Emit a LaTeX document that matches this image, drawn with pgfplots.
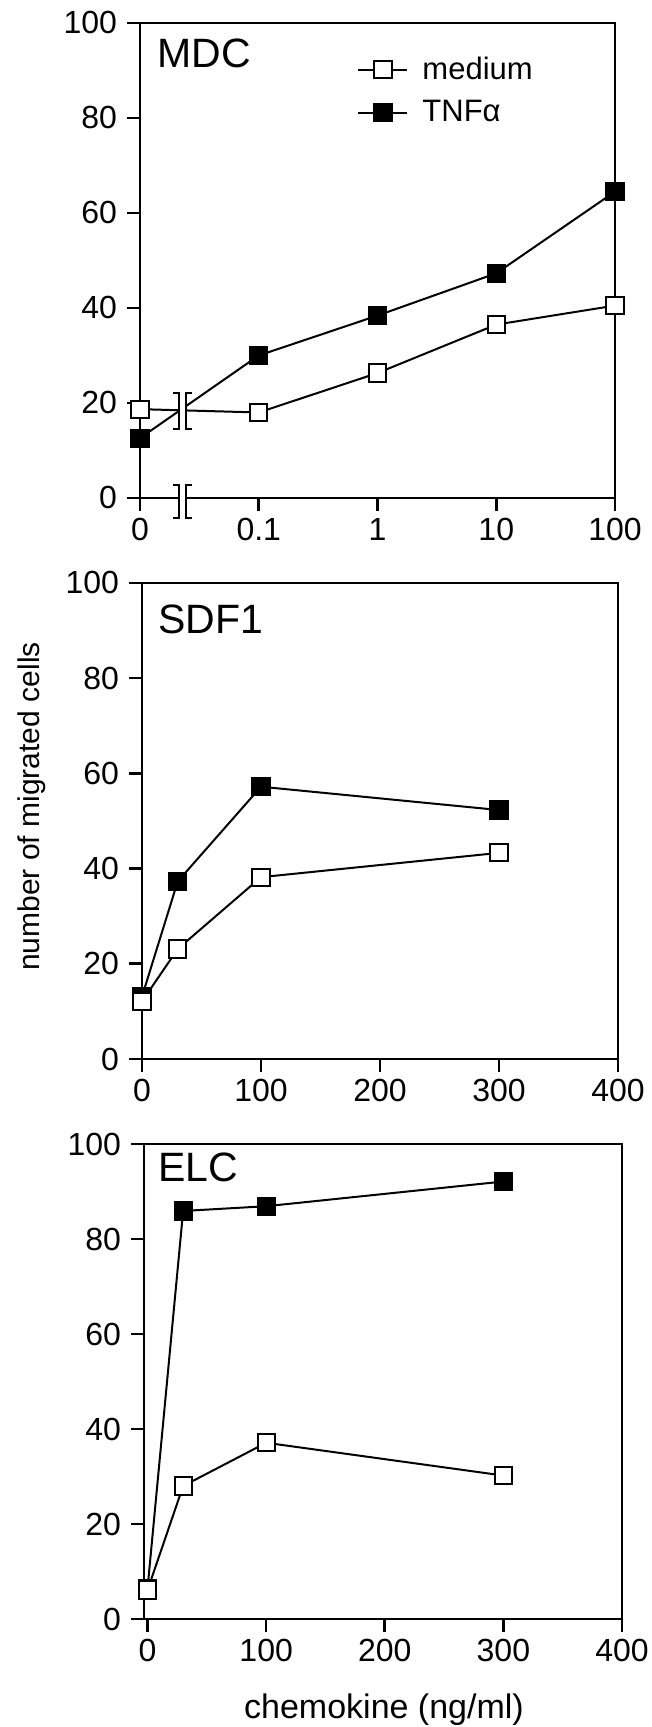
\documentclass[border=0pt]{standalone}
\usepackage{fontspec}
\setmainfont{Liberation Sans}
\usepackage{pgfplots}
\pgfplotsset{compat=1.18}
\begin{document}
\begin{tikzpicture}
\useasboundingbox (0,0) rectangle (326pt,863.5pt);
\pgfplotsset{
  panel/.style={
    scale only axis,
    anchor=south west,
    tick align=outside,
    xtick pos=bottom, ytick pos=left,
    major tick length=6.5pt,
    tick style={black, line width=1.3pt},
    axis line style={line width=1.3pt},
    ymin=0, ymax=100,
    ytick={0,20,...,100},
    tick label style={font=\fontsize{16}{19}\selectfont},
    /pgf/number format/assume math mode=true,
    yticklabel style={xshift=-1.5pt},
    clip=false,
  },
  med/.style={black, line width=1pt, mark=square*, mark size=4.3pt, mark options={fill=white, line width=1pt, solid}},
  tnf/.style={black, line width=1pt, mark=square*, mark size=4.3pt, mark options={fill=black, line width=1pt, solid}},
}
% ---------------- MDC ----------------
\begin{axis}[panel,
  at={(70pt,614.5pt)}, width=237.5pt, height=237.5pt,
  xmin=0, xmax=4, xtick={0,1,2,3,4}, xticklabels={0,0.1,1,10,100},
  reverse legend,
  legend style={draw=none, fill=none, at={(rel axis cs:0.457,0.857)}, anchor=west,
    inner sep=0pt, font=\fontsize{15.5}{18}\selectfont, row sep=5pt, column sep=5pt},
  legend cell align=left,
  legend image code/.code={\draw[#1, mark repeat=2, mark phase=2] plot coordinates {(0pt,0pt) (12.25pt,0pt) (24.5pt,0pt)};},
]
\addplot[tnf] coordinates {(0,12.6) (1,30.0) (2,38.4) (3,47.3) (4,64.5)};
\addlegendentry{TNFα}
\addplot[med] coordinates {(0,18.7) (1,18.0) (2,26.3) (3,36.5) (4,40.5)};
\addlegendentry{medium}
% axis break marks
\fill[white] (axis cs:0.328,-5) rectangle (axis cs:0.387,4);
\fill[white] (axis cs:0.328,14.4) rectangle (axis cs:0.387,22.2);
\draw[line width=1pt] (axis cs:0.278,-4.2) -- (axis cs:0.328,-4.2) -- (axis cs:0.328,2.8) -- (axis cs:0.278,2.8);
\draw[line width=1pt] (axis cs:0.438,-4.2) -- (axis cs:0.387,-4.2) -- (axis cs:0.387,2.8) -- (axis cs:0.438,2.8);
\draw[line width=1pt] (axis cs:0.278,14.6) -- (axis cs:0.328,14.6) -- (axis cs:0.328,22.0) -- (axis cs:0.278,22.0);
\draw[line width=1pt] (axis cs:0.438,14.6) -- (axis cs:0.387,14.6) -- (axis cs:0.387,22.0) -- (axis cs:0.438,22.0);
\node[anchor=base west, inner sep=0pt, font=\fontsize{20.5}{24}\selectfont, xshift=8.5pt, yshift=-22.5pt] at (rel axis cs:0,1) {MDC};
\end{axis}
% ---------------- SDF1 ----------------
\begin{axis}[panel,
  at={(71pt,334pt)}, width=238pt, height=238pt,
  xmin=0, xmax=400, xtick={0,100,200,300,400},
]
\addplot[tnf] coordinates {(0,13.1) (30,37.3) (100,57.2) (300,52.3)};
\addplot[med] coordinates {(0,12.1) (30,23.1) (100,38.2) (300,43.3)};
\node[anchor=base west, inner sep=0pt, font=\fontsize{20.5}{24}\selectfont, xshift=8pt, yshift=-25.5pt] at (rel axis cs:0,1) {SDF1};
\end{axis}
% ---------------- ELC ----------------
\begin{axis}[panel,
  at={(72pt,54pt)}, width=239pt, height=237.5pt,
  xmin=-3, xmax=400, xtick={0,100,200,300,400},
]
\addplot[tnf] coordinates {(0,6.5) (30,85.9) (100,86.9) (300,92.1)};
\addplot[med] coordinates {(0,6.1) (30,28.0) (100,37.1) (300,30.2)};
\node[anchor=base west, inner sep=0pt, font=\fontsize{20.5}{24}\selectfont, xshift=7pt, yshift=-19pt] at (rel axis cs:0,1) {ELC};
\end{axis}
\node[rotate=90, inner sep=0pt, font=\fontsize{15}{18}\selectfont] at (15.75pt,460.25pt) {number of migrated cells};
\node[anchor=base, inner sep=0pt, font=\fontsize{17}{20}\selectfont] at (192pt,4.5pt) {chemokine (ng/ml)};
\end{tikzpicture}
\end{document}
